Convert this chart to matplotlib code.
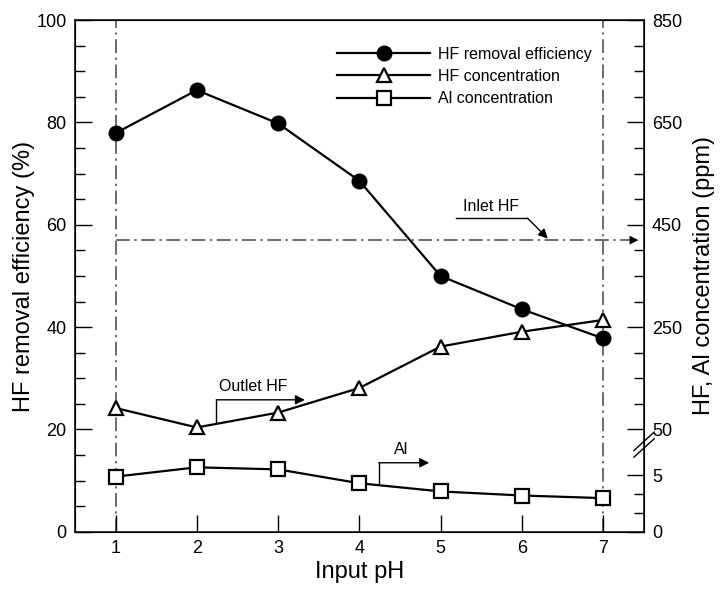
import numpy as np
import matplotlib.pyplot as plt

plt.rcParams['font.family'] = ['Liberation Sans', 'DejaVu Sans']

ph = [1, 2, 3, 4, 5, 6, 7]
hf_removal = [77.9, 86.3, 79.8, 68.6, 50.0, 43.5, 37.8]      # %
hf_conc = [92, 54, 83, 131, 212, 241, 264]                     # ppm
al_conc = [4.86, 5.68, 5.5, 4.28, 3.56, 3.2, 2.97]             # ppm
inlet_hf = 420                                                 # ppm

right_major = [0, 5, 50, 250, 450, 650, 850]
right_minor = [5 / 3, 10 / 3, 100, 150, 200, 300, 350, 400, 500, 550, 600, 700, 750, 800]

# broken right axis: 0-7 ppm stretched at the bottom, 50-850 ppm above
K = 2.22
LOW, LOW_Y = 7.0, 7.0 * K
MID, MID_Y = 50.0, 20.0


def fwd(v):
    v = np.asarray(v, dtype=float)
    return np.where(v <= LOW, v * K,
                    np.where(v <= MID, LOW_Y + (v - LOW) * (MID_Y - LOW_Y) / (MID - LOW),
                             MID_Y + (v - MID) / 10.0))


def inv(y):
    y = np.asarray(y, dtype=float)
    return np.where(y <= LOW_Y, y / K,
                    np.where(y <= MID_Y, LOW + (y - LOW_Y) * (MID - LOW) / (MID_Y - LOW_Y),
                             MID + (y - MID_Y) * 10.0))


fig = plt.figure(figsize=(7.2, 5.89), dpi=100)
ax = fig.add_axes([0.104, 0.097, 0.79, 0.869])
ax2 = ax.twinx()
ax2.set_yscale('function', functions=(fwd, inv))

lw = 1.6
l1, = ax.plot(ph, hf_removal, '-o', color='black', lw=lw, ms=10.5, mfc='black',
              label='HF removal efficiency', zorder=5)
l2, = ax2.plot(ph, hf_conc, '-^', color='black', lw=lw, ms=10.5, mfc='white', mew=1.6,
               label='HF concentration', zorder=5)
l3, = ax2.plot(ph, al_conc, '-s', color='black', lw=lw, ms=9.5, mfc='white', mew=1.6,
               label='Al concentration', zorder=5)

ax.set_xlim(0.5, 7.5)
ax.set_ylim(0, 100)
ax2.set_ylim(0, 850)

ax.set_xticks(ph)
ax.set_yticks(np.arange(0, 101, 20))
ax.set_yticks(np.arange(0, 101, 5), minor=True)
ax2.set_yticks(right_major)
ax2.set_yticklabels([str(v) for v in right_major])
ax2.set_yticks(right_minor, minor=True)
ax2.set_yticklabels([], minor=True)

for a in (ax, ax2):
    a.tick_params(direction='in', which='major', length=12, width=1, labelsize=13)
    a.tick_params(direction='in', which='minor', length=7, width=1)
ax.tick_params(axis='x', top=False, pad=6)
ax.tick_params(axis='y', pad=6)
ax2.tick_params(axis='y', pad=6)

ax.set_xlabel('Input pH', fontsize=17, labelpad=3)
ax.set_ylabel('HF removal efficiency (%)', fontsize=17, labelpad=1)
ax2.set_ylabel('HF, Al concentration (ppm)', fontsize=17, labelpad=8)

# reference lines
dashdot = (0, (9, 3, 1.5, 3))
for x in (1, 7):
    ax.axvline(x, color='#444444', lw=1.1, ls=dashdot, zorder=1)
inlet_y = float(fwd(inlet_hf))
ax.plot([1, 7.43], [inlet_y, inlet_y], color='#444444', lw=1.1, ls=dashdot, zorder=1)
ax.annotate('', xy=(7.47, inlet_y), xytext=(7.2, inlet_y),
            arrowprops=dict(arrowstyle='-|>', color='black', lw=0, mutation_scale=16))

# callouts
ax.text(5.62, 63.6, 'Inlet HF', ha='center', va='center', fontsize=11.5)
ax.plot([5.19, 6.07], [61.3, 61.3], color='black', lw=1)
ax.annotate('', xy=(6.32, 57.3), xytext=(6.07, 61.3),
            arrowprops=dict(arrowstyle='-|>', color='black', lw=1,
                            mutation_scale=14, shrinkA=0, shrinkB=0))

ax.plot([2.24, 2.24], [21.3, 25.8], color='black', lw=1)
ax.annotate('', xy=(3.33, 25.8), xytext=(2.24, 25.8),
            arrowprops=dict(arrowstyle='-|>', color='black', lw=1,
                            mutation_scale=14, shrinkA=0, shrinkB=0))
ax.text(2.70, 28.4, 'Outlet HF', ha='center', va='center', fontsize=11.5)

ax.plot([4.24, 4.24], [9.4, 13.5], color='black', lw=1)
ax.annotate('', xy=(4.86, 13.5), xytext=(4.24, 13.5),
            arrowprops=dict(arrowstyle='-|>', color='black', lw=1,
                            mutation_scale=14, shrinkA=0, shrinkB=0))
ax.text(4.51, 16.0, 'Al', ha='center', va='center', fontsize=11.5)

# break marks on right axis
for dy in (0.0, 1.3):
    ax.plot([7.38, 7.63], [14.6 + dy, 18.2 + dy], color='black', lw=1,
            clip_on=False, zorder=10)

leg = ax.legend(handles=[l1, l2, l3], loc='upper left', bbox_to_anchor=(0.45, 0.96),
                frameon=False, fontsize=11.5, handlelength=5.8, handletextpad=0.5,
                labelspacing=0.45, borderaxespad=0, numpoints=1)

for s in ax.spines.values():
    s.set_linewidth(1.1)

fig.savefig('out.png', dpi=100)
